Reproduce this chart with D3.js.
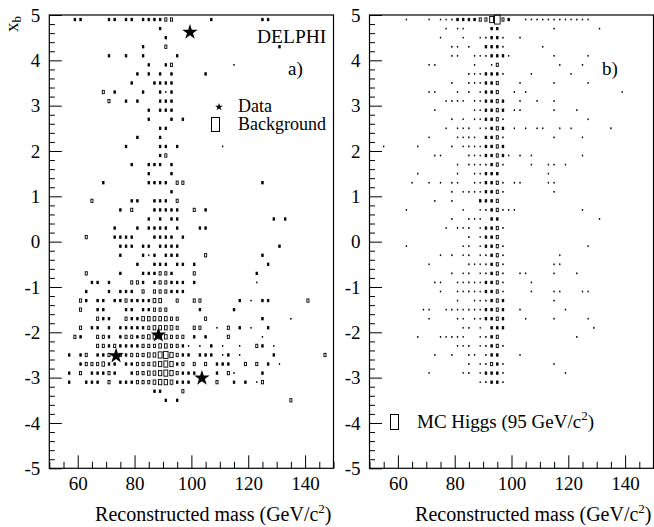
<!DOCTYPE html>
<html><head><meta charset="utf-8">
<script src="https://cdn.jsdelivr.net/npm/d3@7"></script>
<style>
body{margin:0;background:#fff}
svg{display:block}
text{font-family:"Liberation Serif","Times New Roman",serif;fill:#000}
</style>
</head><body>
<svg id="c" width="654" height="527"></svg>
<script>
// ---------------- data ----------------
const massRange = [50, 150];      // GeV/c^2
const xbRange = [-5, 5];
const massBinWidth = 2;
const xbBinWidth = 0.2;
const xTickMajor = [60, 80, 100, 120, 140];
const xTickMinor = [50,55,65,70,75,85,90,95,105,110,115,125,130,135,145,150];
const yTickMajor = [-5,-4,-3,-2,-1,0,1,2,3,4,5];

// observed events (panel a)
const dataMass = [99.5, 88.4, 73.5, 103.7];
const dataXb   = [4.62, -2.06, -2.52, -3.01];

// background histogram (panel a): [xb bin index, "mass bin index:content ..."]
const bgRows = [
 [49,"4:2 5:2 10:2 11:2 13:2 14:2 16:2 17:2 18:2 19:2 20:3 21:3 28:2 37:2 38:2"],
 [48,"19:2"],
 [47,"20:2"],
 [46,"16:2 20:3 40:2"],
 [45,"10:2 13:2 16:2 22:2"],
 [44,"17:2 20:2 21:3 32:1"],
 [43,"15:2 17:2 19:2 21:2 27:2"],
 [42,"14:2 18:2 19:2 20:2 21:2"],
 [41,"9:3 11:2 16:2 19:2 20:1 21:2"],
 [40,"10:3 13:2 15:2 19:2 20:2 21:2"],
 [39,"17:2 19:2 20:2 21:2"],
 [38,"17:2 21:2 23:2"],
 [37,"19:2 20:2"],
 [36,"15:2 19:2"],
 [35,"13:2 19:2 20:2 22:2 30:1"],
 [34,"19:2 20:3"],
 [33,"14:2 17:2 18:2 19:2 21:2"],
 [32,"17:2 21:2"],
 [31,"9:2 17:2 18:2 19:2 20:2 22:3 23:3 37:2"],
 [30,"21:2"],
 [29,"7:3 14:2 15:2 18:2 19:2 20:2 22:3"],
 [28,"12:2 14:3 18:2 19:2 20:2 21:2 22:2 25:3 27:2"],
 [27,"17:2 19:2 21:2 22:2 39:2 41:2"],
 [26,"11:2 15:2 17:2 18:2 19:2 20:2 22:2 26:2 27:2"],
 [25,"6:3 11:2 12:2 13:2 14:2 18:2 19:2 20:2 21:2 23:2"],
 [24,"12:2 13:2 14:2 16:2 17:2 19:2 20:2 21:2 22:2 40:2"],
 [23,"12:2 16:2 17:1 18:2 20:2 21:2 22:2 27:3 37:2"],
 [22,"15:2 18:2 19:2 20:2 22:2 23:2 25:2 38:2"],
 [21,"6:3 12:2 16:2 17:2 18:2 19:3 20:3 21:2 25:3 36:2"],
 [20,"7:2 8:2 10:2 14:3 15:3 16:2 18:2 19:3 20:3 21:2 22:2 23:2 25:2 36:1"],
 [19,"6:2 10:2 12:2 13:2 14:2 16:3 18:3 19:3 20:3 21:2 22:2 23:2"],
 [18,"5:3 6:2 8:2 9:2 11:2 12:2 13:3 14:2 15:2 16:2 17:2 18:4 19:4 22:3 25:3 26:3 33:2 35:1 37:2 38:2 45:3"],
 [17,"5:3 8:2 9:2 13:2 14:2 16:2 17:2 18:3 19:3 20:3 26:2 32:2"],
 [16,"8:3 9:2 10:2 13:3 14:2 15:2 16:4 17:4 18:4 19:4 20:4 21:3 22:3 27:3 37:2 42:1"],
 [15,"5:3 7:2 8:2 10:2 12:2 13:2 14:2 15:2 16:2 17:3 18:4 19:4 20:4 21:4 22:3 25:3 26:3 29:1 31:3 33:2 35:1 38:2"],
 [14,"4:3 5:2 8:3 9:3 10:2 12:2 13:3 14:3 15:2 16:3 17:4 18:4 19:4 20:4 21:3 22:3 23:3 25:2 27:2 31:3 37:1"],
 [13,"8:3 9:3 10:2 11:3 12:2 13:2 14:2 15:2 16:3 17:3 18:3 19:4 20:4 21:3 22:3 23:2 24:1 26:1 28:2 30:1 33:1 36:3 37:2 39:1"],
 [12,"3:2 5:2 6:3 8:2 9:2 10:3 12:3 13:2 14:3 15:3 16:3 17:4 18:4 19:6 20:7 21:5 22:3 23:2 24:2 26:2 27:2 28:2 30:1 31:2 33:1 39:2 48:3"],
 [11,"5:2 6:3 7:3 8:3 9:4 10:2 11:2 13:2 14:2 15:3 16:3 17:3 18:4 19:5 20:6 21:5 22:2 23:3 25:3 27:3 29:2 30:2 31:2 34:3 36:3 38:2 40:1"],
 [10,"3:2 5:3 7:2 8:2 9:2 10:3 11:2 14:2 15:3 16:3 17:4 18:4 19:5 20:6 21:5 22:3 23:2 24:2 25:2 29:2 31:3 32:1 37:2"],
 [9,"3:2 6:2 7:2 8:2 10:3 12:2 13:2 14:2 15:3 16:3 17:3 18:4 19:5 20:5 21:4 22:2 23:2 24:2 29:3 32:2 34:2 36:1 37:3"],
 [8,"18:2 19:2 23:3"],
 [7,"20:2 22:2 42:3"]
];

// MC Higgs 95 GeV histogram (panel b)
const higgsRows = [
 [49,"6:1 10:1 12:1 13:1 14:1 15:2 16:2 17:2 18:2 19:3 20:3 21:6 22:9 23:3 24:2 27:1 28:1 29:1 30:1 31:1 32:1 33:1 34:1 35:1 36:1 37:1 38:1"],
 [48,"13:1 15:1 16:1 21:2 22:2 32:1 40:1"],
 [47,"12:1 16:1 19:1 20:1 21:2 22:2 23:1 26:1"],
 [46,"14:1 15:1 17:1 20:2 21:2 22:2 23:1 30:1"],
 [45,"14:1 15:1 18:1 19:1 20:1 21:2 22:2 23:2 24:1 32:1 38:1"],
 [44,"10:1 11:1 18:1 21:1 22:3 33:1 37:1"],
 [43,"17:1 18:1 19:1 20:2 21:2 22:2 23:1 28:1 35:1"],
 [42,"14:1 17:1 18:1 19:1 20:2 21:2 22:3 26:1 32:1 38:1"],
 [41,"10:1 11:1 15:1 17:1 19:1 20:2 21:2 22:3 25:1 27:1 44:1"],
 [40,"13:1 14:1 15:1 16:1 18:1 19:1 20:2 21:2 22:3 23:2 26:1 29:1 32:1"],
 [39,"11:1 18:1 19:1 20:2 21:2 22:3 23:2 25:1 26:1 32:1 36:1"],
 [38,"14:1 16:1 18:1 19:1 20:2 21:2 22:3 23:1 38:1"],
 [37,"13:1 15:1 16:1 17:1 19:1 20:1 21:2 22:3 23:2 25:1 27:1 29:1 30:1 33:1 35:1 42:1"],
 [36,"10:1 15:1 16:1 17:1 18:1 20:2 21:2 22:3 23:1 32:1 37:1"],
 [35,"2:1 8:1 14:1 16:1 17:1 18:1 19:1 20:2 21:2 22:3 23:2"],
 [34,"11:1 12:1 17:1 18:1 19:1 20:2 21:2 22:3 23:2 24:1 26:1 28:1 37:1"],
 [33,"15:1 17:1 18:1 19:1 20:1 21:2 22:3 23:1 28:1 31:1 32:1 34:1"],
 [32,"8:1 15:1 18:1 19:1 20:2 21:2 22:2 31:1"],
 [31,"7:1 10:1 12:1 14:1 15:1 18:1 19:1 20:2 21:2 22:3 23:1 25:1 26:1 31:1 32:1"],
 [30,"14:1 16:1 17:1 18:1 19:1 20:2 21:2 22:3 23:1 32:1"],
 [29,"11:1 14:1 19:2 20:2 21:2 22:3"],
 [28,"6:1 16:1 19:1 20:1 21:2 22:3 23:1 24:1 25:1 37:1"],
 [27,"14:1 17:1 18:1 19:1 21:2 22:2 40:1"],
 [26,"13:1 15:1 16:1 17:1 19:1 20:2 21:2 22:3 23:1"],
 [25,"17:1 19:1 20:2 21:2 22:3"],
 [24,"6:1 16:1 17:1 19:1 20:2 21:2 22:3 23:1 38:1"],
 [23,"12:1 14:1 16:1 17:1 19:1 20:1 21:2 22:3 23:1 33:1"],
 [22,"10:1 17:1 18:1 19:1 20:1 21:2 22:3 23:1 32:1 33:1"],
 [21,"14:1 16:1 17:1 19:1 20:1 21:2 22:3 23:1 26:1 27:1 32:1 36:1"],
 [20,"11:1 12:1 15:1 16:1 17:1 18:1 19:1 20:2 21:2 22:3 23:1 28:1"],
 [19,"12:1 15:1 16:1 17:1 18:1 19:1 20:2 21:2 22:3 23:1 28:1 32:1 33:1 37:1 38:1"],
 [18,"15:1 18:1 19:1 20:1 21:2 22:3 23:2 32:1"],
 [17,"9:1 10:1 13:1 14:1 15:1 16:1 17:1 18:1 19:1 20:2 21:2 22:3 23:2 26:1 34:1"],
 [16,"10:1 15:1 16:1 18:1 19:1 20:2 21:2 22:3 23:2 27:1 32:1 38:1"],
 [15,"16:1 17:1 19:1 21:2 22:2 23:2 39:1"],
 [14,"8:1 12:1 13:1 14:1 15:1 16:1 19:1 20:1 21:2 22:3 36:1"],
 [13,"15:1 16:1 17:1 19:1 20:1 21:2 22:3 23:1"],
 [12,"11:1 14:1 17:1 18:1 20:1 21:2 22:2 26:1"],
 [11,"17:1 19:1 20:1 21:3 22:2 23:1 32:1"],
 [10,"10:1 16:1 17:1 19:1 20:2 21:2 22:2 23:1 34:1"],
 [9,"19:1 20:1 21:2 22:2 23:1"]
];

// ---------------- drawing ----------------
const svg = d3.select("#c");
const yTop = 15, yBot = 468.3;
const FS = 19;

function parseRows(rows) {
  const out = [];
  rows.forEach(([j, s]) => {
    s.trim().split(/\s+/).forEach(tok => {
      const [i, c] = tok.split(":").map(Number);
      out.push({
        m: massRange[0] + i * massBinWidth,
        xb: xbRange[0] + j * xbBinWidth,
        c
      });
    });
  });
  return out;
}

const panels = [
  {x0: 49.3, x1: 333.5, rows: bgRows, tag: "a)"},
  {x0: 369.5, x1: 653.5, rows: higgsRows, tag: "b)"}
];

// box size (fraction of the bin) as a function of cell content
const size = d3.scaleLinear().domain([0, 1, 2, 9]).range([0, 0.11, 0.26, 1]);
const y = d3.scaleLinear().domain(xbRange).range([yBot, yTop]);

panels.forEach((p, k) => {
  const x = d3.scaleLinear().domain(massRange).range([p.x0, p.x1]);
  p.x = x;
  const g = svg.append("g");
  const bw = x(massRange[0] + massBinWidth) - x(massRange[0]);
  const bh = y(xbRange[0]) - y(xbRange[0] + xbBinWidth);
  const cells = parseRows(p.rows);
  g.selectAll("rect.cell").data(cells).join("rect")
    .attr("class", "cell")
    .attr("x", d => x(d.m + massBinWidth / 2) - size(d.c) * bw / 2)
    .attr("y", d => y(d.xb + xbBinWidth / 2) - size(d.c) * bh / 2)
    .attr("width", d => size(d.c) * bw)
    .attr("height", d => size(d.c) * bh)
    .attr("fill", d => d.c <= 2 ? "#000" : "none")
    .attr("stroke", "#000")
    .attr("stroke-width", d => d.c <= 1 ? 0.7 : 0.9);

  // axes (ticks inward)
  const ax = svg.append("g").attr("transform", `translate(0,${yBot})`);
  ax.call(d3.axisBottom(x).tickValues(xTickMajor).tickSize(-13).tickPadding(8).tickFormat(d => String(d)));
  const axm = svg.append("g").attr("transform", `translate(0,${yBot})`);
  axm.call(d3.axisBottom(x).tickValues(xTickMinor).tickSize(-6.5).tickFormat(""));
  const ay = svg.append("g").attr("transform", `translate(${p.x0},0)`);
  ay.call(d3.axisLeft(y).tickValues(yTickMajor).tickSize(-12.5).tickPadding(9).tickFormat(d => String(d)));
  const yMinor = d3.range(-50, 51, 2).map(v => v / 10).filter(v => !Number.isInteger(v));
  const aym = svg.append("g").attr("transform", `translate(${p.x0},0)`);
  aym.call(d3.axisLeft(y).tickValues(yMinor).tickSize(-5.5).tickFormat(""));
  [ax, axm, ay, aym].forEach(a => {
    a.select(".domain").remove();
    a.selectAll("line").attr("stroke", "#000").attr("stroke-width", 1);
    a.selectAll("text").attr("font-size", FS).attr("font-family", "Liberation Serif");
  });

  // frame
  svg.append("rect")
    .attr("x", p.x0).attr("y", yTop)
    .attr("width", p.x1 - p.x0).attr("height", yBot - yTop)
    .attr("fill", "none").attr("stroke", "#000").attr("stroke-width", 1.2);

  // axis title
  const t = svg.append("text")
    .attr("x", p.x1 - 2).attr("y", 521)
    .attr("text-anchor", "end").attr("font-size", 20);
  t.append("tspan").text("Reconstructed mass (GeV/c");
  t.append("tspan").attr("dy", -8).attr("font-size", 13).text("2");
  t.append("tspan").attr("dy", 8).text(")");

  // panel tag
  svg.append("text").attr("x", k === 0 ? 288 : 602).attr("y", 74.5)
    .attr("font-size", FS).text(p.tag);
});

// y title x_b (rotated)
const yt = svg.append("text").attr("transform", "translate(17.5,32) rotate(-90)")
  .attr("font-size", FS);
yt.append("tspan").text("x");
yt.append("tspan").attr("dy", 3).attr("font-size", 13).text("b");

// DELPHI
svg.append("text").attr("x", 257).attr("y", 43).attr("font-size", 19.5).text("DELPHI");

// data stars
const xa = panels[0].x;
svg.append("g").selectAll("path").data(dataMass.map((m, i) => [m, dataXb[i]])).join("path")
  .attr("transform", d => `translate(${xa(d[0])},${y(d[1])})`)
  .attr("d", d3.symbol(d3.symbolStar, 74))
  .attr("fill", "#000");

// legend a
svg.append("path").attr("transform", "translate(219,107)")
  .attr("d", d3.symbol(d3.symbolStar, 19)).attr("fill", "#000");
svg.append("text").attr("x", 238).attr("y", 111.5).attr("font-size", 18).text("Data");
svg.append("rect").attr("x", 211.5).attr("y", 117.5).attr("width", 8).attr("height", 14)
  .attr("fill", "none").attr("stroke", "#000").attr("stroke-width", 1);
svg.append("text").attr("x", 238).attr("y", 130).attr("font-size", 18).text("Background");

// legend b
svg.append("rect").attr("x", 390.5).attr("y", 414.5).attr("width", 8).attr("height", 15)
  .attr("fill", "none").attr("stroke", "#000").attr("stroke-width", 1);
const lb = svg.append("text").attr("x", 417).attr("y", 428).attr("font-size", FS);
lb.append("tspan").text("MC Higgs (95 GeV/c");
lb.append("tspan").attr("dy", -8).attr("font-size", 13).text("2");
lb.append("tspan").attr("dy", 8).text(")");
</script>
</body></html>
